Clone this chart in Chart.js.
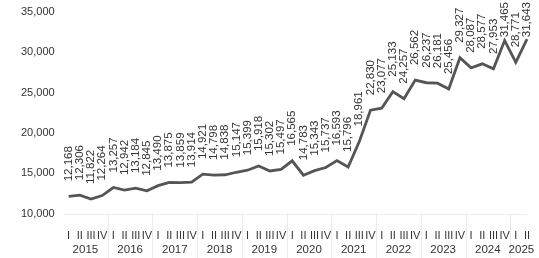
<!DOCTYPE html>
<html>
<head>
<meta charset="utf-8">
<script src="https://cdn.jsdelivr.net/npm/chart.js@4/dist/chart.umd.min.js"></script>
<style>
  html, body { margin: 0; padding: 0; background: #fff; }
  #wrap { width: 539px; height: 258px; }
</style>
</head>
<body>
<div id="wrap"><canvas id="chart"></canvas></div>
<script>
const years = [2015, 2016, 2017, 2018, 2019, 2020, 2021, 2022, 2023, 2024, 2025];
const quarters = ["I", "II", "III", "IV"];
const values = [
  12168, 12306, 11822, 12264,
  13257, 12942, 13184, 12845,
  13490, 13875, 13859, 13914,
  14921, 14798, 14838, 15147,
  15399, 15918, 15302, 15497,
  16565, 14783, 15343, 15737,
  16593, 15796, 18961, 22830,
  23077, 25133, 24257, 26562,
  26237, 26181, 25456, 29327,
  28087, 28577, 27953, 31465,
  28771, 31643
];
const yMin = 10000;
const yMax = 35000;
const yStep = 5000;

const labels = values.map((v, i) => quarters[i % 4]);
const FONT = '"Liberation Sans", Arial, sans-serif';
const fmt = (v) => Number(v).toLocaleString("en-US");

// value labels, rotated, above each point (kept inside the canvas)
const pointLabels = {
  id: "pointLabels",
  afterDatasetsDraw(chart) {
    const ctx = chart.ctx;
    const meta = chart.getDatasetMeta(0);
    ctx.save();
    ctx.font = "11.5px " + FONT;
    ctx.fillStyle = "#333";
    ctx.textAlign = "left";
    ctx.textBaseline = "middle";
    meta.data.forEach((pt, i) => {
      const txt = fmt(values[i]);
      const w = ctx.measureText(txt).width;
      const y0 = Math.max(pt.y - 15, w + 2);
      ctx.save();
      ctx.translate(pt.x, y0);
      ctx.rotate(-Math.PI / 2);
      ctx.fillText(txt, 0, 0);
      ctx.restore();
    });
    ctx.restore();
  }
};

// year row under the quarter ticks + faint separators
const yearRow = {
  id: "yearRow",
  afterDraw(chart) {
    const ctx = chart.ctx;
    const x = chart.scales.x;
    const area = chart.chartArea;
    ctx.save();
    ctx.strokeStyle = "#ebebeb";
    ctx.lineWidth = 1;
    ctx.beginPath();
    ctx.moveTo(area.left - 5, area.bottom + 0.5);
    ctx.lineTo(area.right, area.bottom + 0.5);
    ctx.stroke();
    ctx.font = "11.5px " + FONT;
    ctx.fillStyle = "#333";
    ctx.textAlign = "center";
    ctx.textBaseline = "middle";
    years.forEach((yr, j) => {
      const first = j * 4;
      const last = Math.min(first + 3, values.length - 1);
      const cx = (x.getPixelForValue(first) + x.getPixelForValue(last)) / 2;
      ctx.fillText(String(yr), cx, 250);
      if (last + 1 < values.length) {
        const sx = Math.round((x.getPixelForValue(last) + x.getPixelForValue(last + 1)) / 2) + 0.5;
        ctx.beginPath();
        ctx.moveTo(sx, area.bottom);
        ctx.lineTo(sx, chart.height);
        ctx.stroke();
      }
    });
    ctx.restore();
  }
};

new Chart(document.getElementById("chart"), {
  type: "line",
  data: {
    labels: labels,
    datasets: [{
      data: values,
      borderColor: "#555",
      borderWidth: 2.8,
      pointRadius: 0,
      tension: 0,
      fill: false
    }]
  },
  options: {
    responsive: true,
    maintainAspectRatio: false,
    animation: false,
    layout: { padding: { top: 12, right: 12, bottom: 7, left: 18 } },
    plugins: { legend: { display: false }, tooltip: { enabled: false } },
    scales: {
      x: {
        offset: false,
        grid: { display: false },
        border: { display: false },
        ticks: {
          autoSkip: false,
          maxRotation: 0,
          padding: 8,
          color: "#333",
          font: { family: FONT, size: 11 }
        }
      },
      y: {
        min: yMin,
        max: yMax,
        grid: {
          display: true,
          drawOnChartArea: false,
          drawTicks: true,
          tickLength: 11,
          color: "transparent"
        },
        border: { display: false },
        ticks: {
          stepSize: yStep,
          padding: 3,
          color: "#333",
          font: { family: FONT, size: 11 },
          callback: (v) => fmt(v)
        }
      }
    }
  },
  plugins: [pointLabels, yearRow]
});
</script>
</body>
</html>
